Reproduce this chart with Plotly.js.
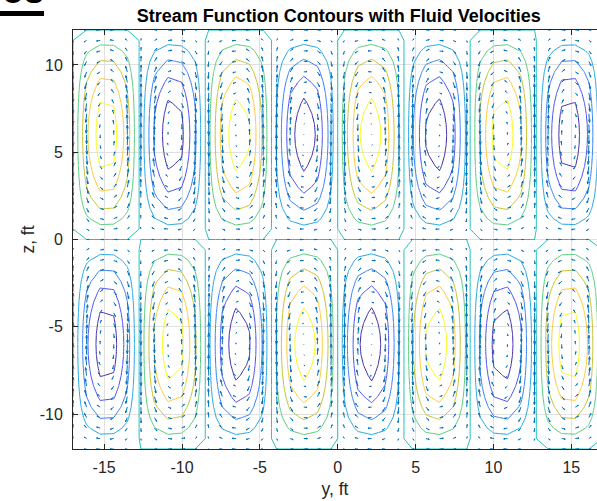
<!DOCTYPE html>
<html>
<head>
<meta charset="utf-8">
<script src="https://cdn.plot.ly/plotly-3.0.1.min.js"></script>
<style>
html,body{margin:0;padding:0;background:#ffffff;}
#chart{width:597px;height:501px;}
</style>
</head>
<body>
<div id="chart"></div>
<script>
// Horizontal grid positions (y, ft) of the sampled field
const yGrid = [-17, -16.128, -15.256, -14.385, -13.513, -12.641, -11.769, -10.897, -10.026, -9.154,
  -8.282, -7.410, -6.538, -5.667, -4.795, -3.923, -3.051, -2.179, -1.308, -0.436,
  0.436, 1.308, 2.179, 3.051, 3.923, 4.795, 5.667, 6.538, 7.410, 8.282,
  9.154, 10.026, 10.897, 11.769, 12.641, 13.513, 14.385, 15.256, 16.128, 17];
// Vertical grid positions (z, ft)
const zGrid = [-12, -11.4, -10.8, -10.2, -9.6, -9, -8.4, -7.8, -7.2, -6.6, -6, -5.4, -4.8, -4.2, -3.6, -3, -2.4, -1.8, -1.2, -0.6,
  0, 0.6, 1.2, 1.8, 2.4, 3, 3.6, 4.2, 4.8, 5.4, 6, 6.6, 7.2, 7.8, 8.4, 9, 9.6, 10.2, 10.8, 11.4, 12];
// Stream function profile across y (relative), read at each y grid column
const profileY = [0, 0.601, 0.961, 0.935, 0.534, -0.080, -0.663, -0.980, -0.904, -0.465,
  0.160, 0.721, 0.993, 0.866, 0.392, -0.239, -0.775, -0.999, -0.823, -0.317,
  0.317, 0.823, 0.999, 0.775, 0.239, -0.392, -0.866, -0.993, -0.721, -0.160,
  0.465, 0.904, 0.980, 0.663, 0.080, -0.534, -0.935, -0.961, -0.601, 0];
// Stream function profile across z (relative), read at each z grid row
const profileZ = [0, -0.156, -0.309, -0.454, -0.588, -0.707, -0.809, -0.891, -0.951, -0.988, -1,
  -0.988, -0.951, -0.891, -0.809, -0.707, -0.588, -0.454, -0.309, -0.156,
  0, 0.156, 0.309, 0.454, 0.588, 0.707, 0.809, 0.891, 0.951, 0.988, 1,
  0.988, 0.951, 0.891, 0.809, 0.707, 0.588, 0.454, 0.309, 0.156, 0];
// Contour levels (9 levels) and their colours (parula)
const levelStart = -0.85, levelEnd = 0.85, levelStep = 0.2125;
const levelColors = ['rgb(62,38,168)', 'rgb(72,77,240)', 'rgb(50,124,252)', 'rgb(32,165,227)',
  'rgb(25,191,182)', 'rgb(87,204,122)', 'rgb(197,194,42)', 'rgb(254,201,52)', 'rgb(249,251,21)'];
const xTickVals = [-15, -10, -5, 0, 5, 10, 15];
const xTickText = ['-15', '-10', '-5', '0', '5', '10', '15'];
const yTickVals = [-10, -5, 0, 5, 10];
const yTickText = ['-10', '-5', '0', '5', '10'];

const FONT = 'Liberation Sans, Arial, Helvetica, sans-serif';

// stream function grid built from the two profiles
const psi = zGrid.map((_, j) => yGrid.map((_, i) => profileZ[j] * profileY[i]));

// velocities from numerical gradient of psi
const nY = yGrid.length, nZ = zGrid.length;
function dPdy(j, i) {
  const a = Math.max(0, i - 1), b = Math.min(nY - 1, i + 1);
  return (psi[j][b] - psi[j][a]) / (yGrid[b] - yGrid[a]);
}
function dPdz(j, i) {
  const a = Math.max(0, j - 1), b = Math.min(nZ - 1, j + 1);
  return (psi[b][i] - psi[a][i]) / (zGrid[b] - zGrid[a]);
}
const U = [], W = [];
let maxLen = 0;
const delx = (yGrid[nY - 1] - yGrid[0]) / nY, dely = (zGrid[nZ - 1] - zGrid[0]) / nZ;
const del = delx * delx + dely * dely;
for (let j = 0; j < nZ; j++) {
  U.push([]); W.push([]);
  for (let i = 0; i < nY; i++) {
    const u = dPdz(j, i), w = -dPdy(j, i);
    U[j].push(u); W[j].push(w);
    maxLen = Math.max(maxLen, Math.sqrt((u * u + w * w) / del));
  }
}
const scale = 0.9 * 0.7 / maxLen;
const qx = [], qy = [];
const alpha = 0.33, beta = 0.33;
for (let j = 0; j < nZ; j++) {
  for (let i = 0; i < nY; i++) {
    const x = yGrid[i], y = zGrid[j];
    const u = U[j][i] * scale, v = W[j][i] * scale;
    qx.push(x, x + u, null);
    qy.push(y, y + v, null);
    qx.push(x + u - alpha * (u + beta * v), x + u, x + u - alpha * (u - beta * v), null);
    qy.push(y + v - alpha * (v - beta * u), y + v, y + v - alpha * (v + beta * u), null);
  }
}

const colorscale = levelColors.map((c, k) => [k / (levelColors.length - 1), c]);

const contourTrace = {
  type: 'contour',
  x: yGrid, y: zGrid, z: psi,
  zmin: levelStart, zmax: levelEnd, zauto: false,
  autocontour: false,
  contours: {start: levelStart, end: levelEnd + 1e-9, size: levelStep, coloring: 'lines', showlines: true},
  line: {width: 1, smoothing: 0},
  colorscale: colorscale,
  showscale: false,
  hoverinfo: 'skip'
};
const quiverTrace = {
  type: 'scatter', mode: 'lines',
  x: qx, y: qy,
  line: {color: '#0072BD', width: 1},
  hoverinfo: 'skip', showlegend: false
};

const layout = {
  width: 597, height: 501,
  margin: {l: 73, r: 0, t: 30, b: 52},
  paper_bgcolor: '#ffffff', plot_bgcolor: '#ffffff',
  showlegend: false,
  title: {
    text: '<b>Stream Function Contours with Fluid Velocities</b>',
    font: {family: FONT, size: 18, color: '#000000'},
    xref: 'paper', x: 0.5073, xanchor: 'center',
    yref: 'container', y: 0.968, yanchor: 'middle'
  },
  xaxis: {
    range: [-17, 16.65], tickvals: xTickVals, ticktext: xTickText,
    ticks: 'inside', ticklen: 5, tickwidth: 1, tickcolor: '#262626',
    showline: true, linecolor: '#262626', linewidth: 1, mirror: 'ticks',
    showgrid: true, gridcolor: '#e0e0e0', gridwidth: 1, zeroline: false,
    tickfont: {family: FONT, size: 16, color: '#262626'},
    ticklabelstandoff: 4,
    title: {text: 'y, ft', font: {family: FONT, size: 17.5, color: '#262626'}, standoff: 7}
  },
  yaxis: {
    range: [-12, 12], tickvals: yTickVals, ticktext: yTickText,
    ticks: 'inside', ticklen: 5, tickwidth: 1, tickcolor: '#262626',
    showline: true, linecolor: '#262626', linewidth: 1, mirror: false,
    showgrid: true, gridcolor: '#e0e0e0', gridwidth: 1, zeroline: false,
    tickfont: {family: FONT, size: 16, color: '#262626'},
    ticklabelstandoff: 6,
    title: {text: 'z, ft', font: {family: FONT, size: 17.5, color: '#262626'}, standoff: 0}
  },
  shapes: [{
    type: 'rect', xref: 'paper', yref: 'paper',
    x0: -0.1393, x1: -0.0553, y0: 1.0334, y1: 1.0453,
    fillcolor: '#000000', line: {width: 0}
  }],
  annotations: [{
    text: '<b>os</b>', xref: 'paper', yref: 'paper',
    x: -0.1393, xanchor: 'left', y: 1.0406, yanchor: 'bottom',
    showarrow: false, font: {family: FONT, size: 36, color: '#000000'}
  }]
};

Plotly.newPlot('chart', [contourTrace, quiverTrace], layout, {displayModeBar: false, staticPlot: true});
</script>
</body>
</html>
